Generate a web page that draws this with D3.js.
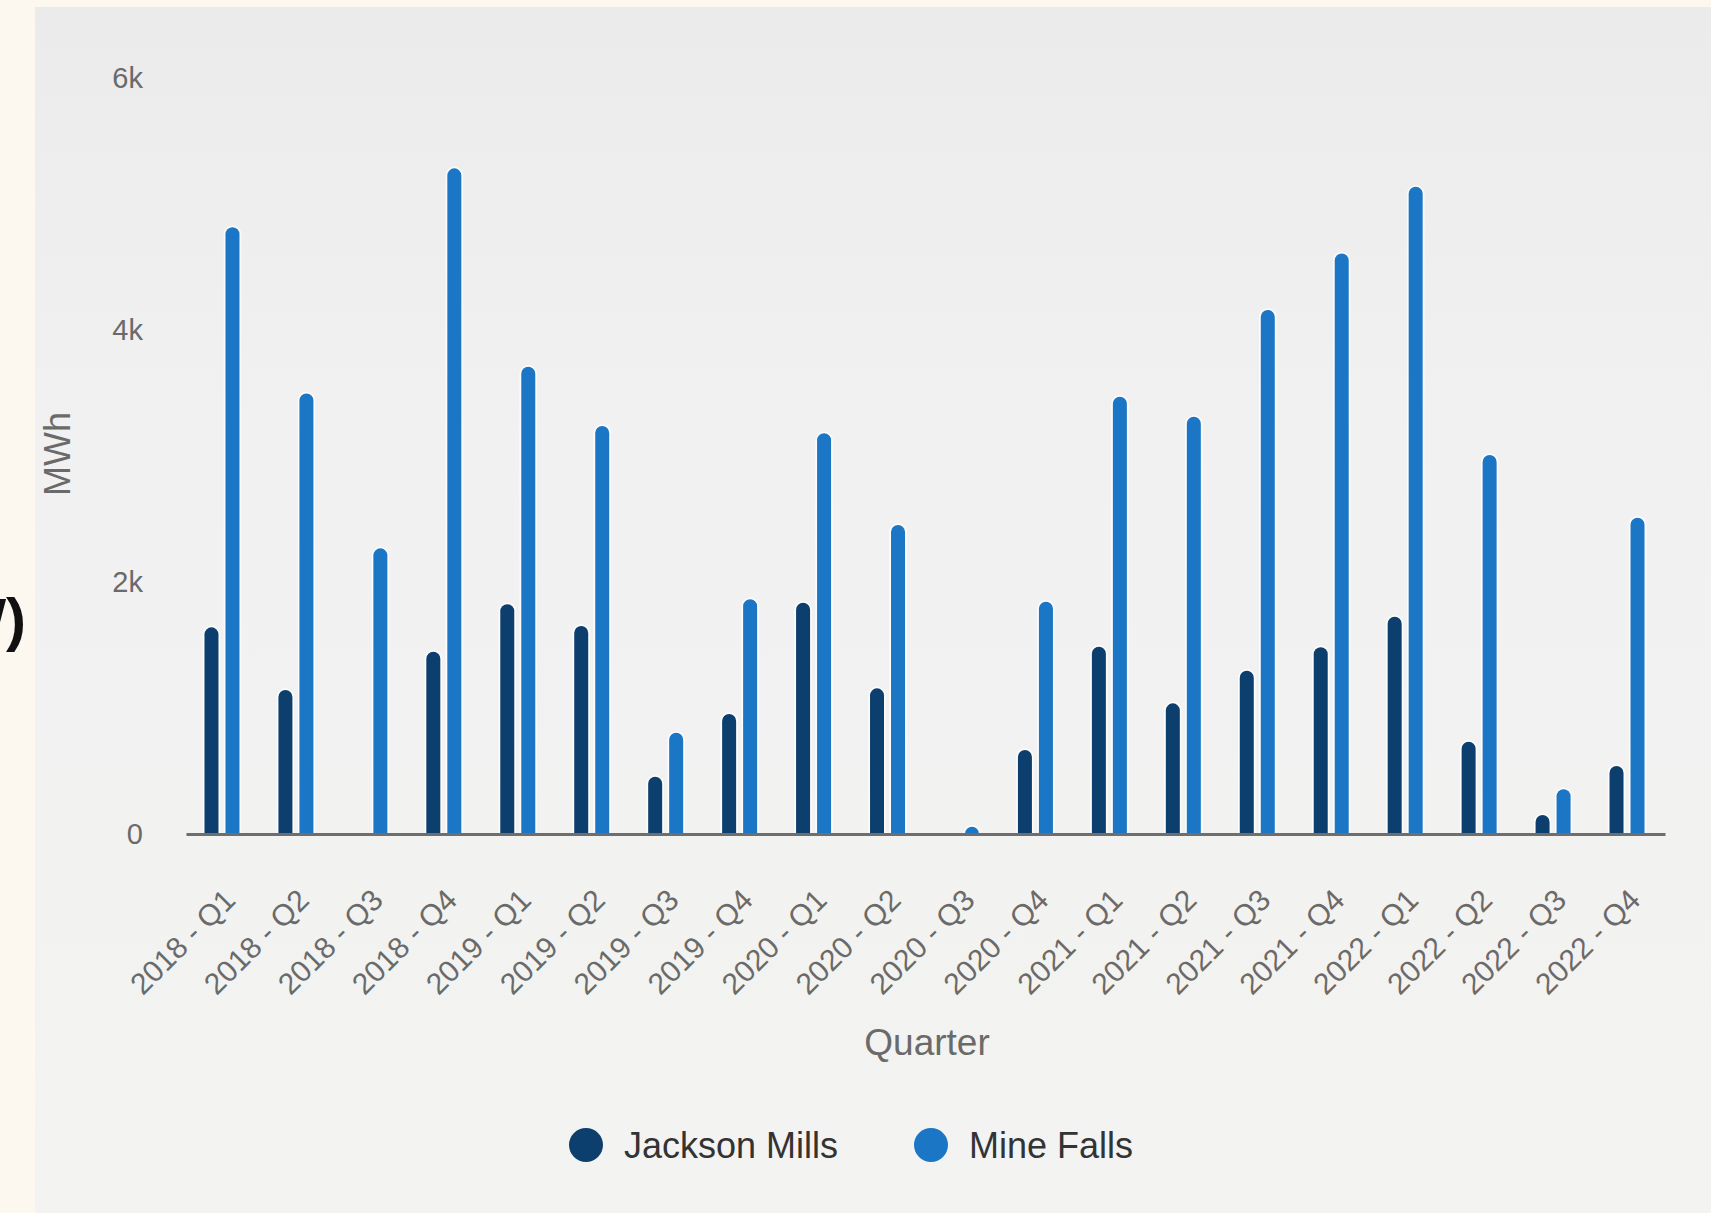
<!DOCTYPE html>
<html>
<head>
<meta charset="utf-8">
<script src="https://cdn.jsdelivr.net/npm/d3@7"></script>
<style>
  html, body { margin: 0; padding: 0; background: #fcf8f0; }
  svg { display: block; font-family: "Liberation Sans", Arial, sans-serif; }
</style>
</head>
<body>
<svg id="chart" width="1711" height="1213"></svg>
<script>
// Quarterly generation per station, MWh
const categories = [
  "2018 - Q1", "2018 - Q2", "2018 - Q3", "2018 - Q4",
  "2019 - Q1", "2019 - Q2", "2019 - Q3", "2019 - Q4",
  "2020 - Q1", "2020 - Q2", "2020 - Q3", "2020 - Q4",
  "2021 - Q1", "2021 - Q2", "2021 - Q3", "2021 - Q4",
  "2022 - Q1", "2022 - Q2", "2022 - Q3", "2022 - Q4"
];
const seriesNames = ["Jackson Mills", "Mine Falls"];
const jacksonMills = [1640, 1143, 0, 1447, 1823, 1651, 455, 952, 1836, 1156,
                      0, 667, 1487, 1037, 1296, 1482, 1725, 733, 151, 540];
const mineFalls = [4815, 3497, 2267, 5283, 3709, 3238, 804, 1863, 3180, 2452,
                   58, 1844, 3471, 3312, 4159, 4608, 5137, 3008, 355, 2510];
const yTicks = [0, 2000, 4000, 6000];
const yTickLabels = ["0", "2k", "4k", "6k"];
const colors = ["#0c3f6d", "#1b76c6"];

const svg = d3.select("#chart");
const W = 1711, H = 1213;

// partially visible heading on the far left
svg.append("text")
  .attr("x", 26).attr("y", 640)
  .attr("text-anchor", "end")
  .attr("font-size", 60).attr("font-weight", "bold")
  .attr("fill", "#111")
  .text("(MW)");

// chart panel
const defs = svg.append("defs");
const grad = defs.append("linearGradient").attr("id", "panelGrad")
  .attr("x1", 0).attr("y1", 0).attr("x2", 0).attr("y2", 1);
grad.append("stop").attr("offset", "0%").attr("stop-color", "#ebebeb");
grad.append("stop").attr("offset", "35%").attr("stop-color", "#f1f1f1");
grad.append("stop").attr("offset", "100%").attr("stop-color", "#f3f3f2");
svg.append("rect")
  .attr("x", 35).attr("y", 7).attr("width", W - 35).attr("height", H - 7)
  .attr("fill", "url(#panelGrad)");

// scales
const x0 = d3.scaleBand().domain(categories).range([186, 1665]).padding(0);
const x1 = d3.scaleBand().domain(seriesNames).range([-22, 20]).padding(0);
const y = d3.scaleLinear().domain([0, 6000]).range([834, 78]);

const barW = 14;
function roundedTop(cx, v) {
  const x = cx - barW / 2, yTop = y(v), yBot = y(0);
  const h = yBot - yTop;
  const r = Math.min(barW / 2, h);
  return `M${x},${yBot} L${x},${yTop + r} A${barW / 2},${r} 0 0 1 ${x + barW},${yTop + r} L${x + barW},${yBot} Z`;
}

const rows = categories.map((c, i) => ({
  cat: c,
  values: [
    { name: seriesNames[0], v: jacksonMills[i], color: colors[0] },
    { name: seriesNames[1], v: mineFalls[i], color: colors[1] }
  ]
}));

const groups = svg.append("g").selectAll("g")
  .data(rows).join("g");

groups.selectAll("path")
  .data(d => d.values.filter(s => s.v > 0).map(s => ({ ...s, cat: d.cat })))
  .join("path")
  .attr("d", d => roundedTop(x0(d.cat) + x0.bandwidth() / 2 + x1(d.name) + x1.bandwidth() / 2, d.v))
  .attr("fill", d => d.color)
  .attr("stroke", "#ffffff")
  .attr("stroke-opacity", 0.75)
  .attr("stroke-width", 3.5)
  .attr("paint-order", "stroke");

// y axis
const yAxis = d3.axisLeft(y)
  .tickValues(yTicks)
  .tickFormat((d, i) => yTickLabels[i])
  .tickSize(0).tickPadding(3);
const gy = svg.append("g").attr("transform", "translate(146,0)").call(yAxis);
gy.select(".domain").remove();
gy.selectAll("text")
  .attr("font-size", 29).attr("fill", "#6a6a6a")
  .attr("font-family", "Liberation Sans, Arial, sans-serif");

// x axis
const xAxis = d3.axisBottom(x0).tickSize(0).tickSizeOuter(0);
const gx = svg.append("g").attr("transform", "translate(0,834)").call(xAxis);
gx.select(".domain").attr("stroke", "#6e6e6e").attr("stroke-width", 3);
gx.selectAll("text")
  .attr("font-size", 30).attr("fill", "#6a6a6a")
  .attr("font-family", "Liberation Sans, Arial, sans-serif")
  .attr("text-anchor", "end")
  .attr("dy", 0)
  .attr("y", 0)
  .attr("transform", "translate(14,68) rotate(-45)");

// axis titles
svg.append("text")
  .attr("transform", "translate(70,454) rotate(-90)")
  .attr("text-anchor", "middle")
  .attr("font-size", 36).attr("fill", "#6a6a6a")
  .text("MWh");
svg.append("text")
  .attr("x", 927).attr("y", 1055)
  .attr("text-anchor", "middle")
  .attr("font-size", 37).attr("fill", "#6a6a6a")
  .text("Quarter");

// legend
const legendX = [586, 931];
const legend = svg.append("g").selectAll("g")
  .data(seriesNames).join("g")
  .attr("transform", (d, i) => `translate(${legendX[i]},1145)`);
legend.append("circle").attr("r", 17).attr("fill", (d, i) => colors[i]);
legend.append("text")
  .attr("x", 38).attr("y", 13)
  .attr("font-size", 36).attr("fill", "#333")
  .text(d => d);
</script>
</body>
</html>
